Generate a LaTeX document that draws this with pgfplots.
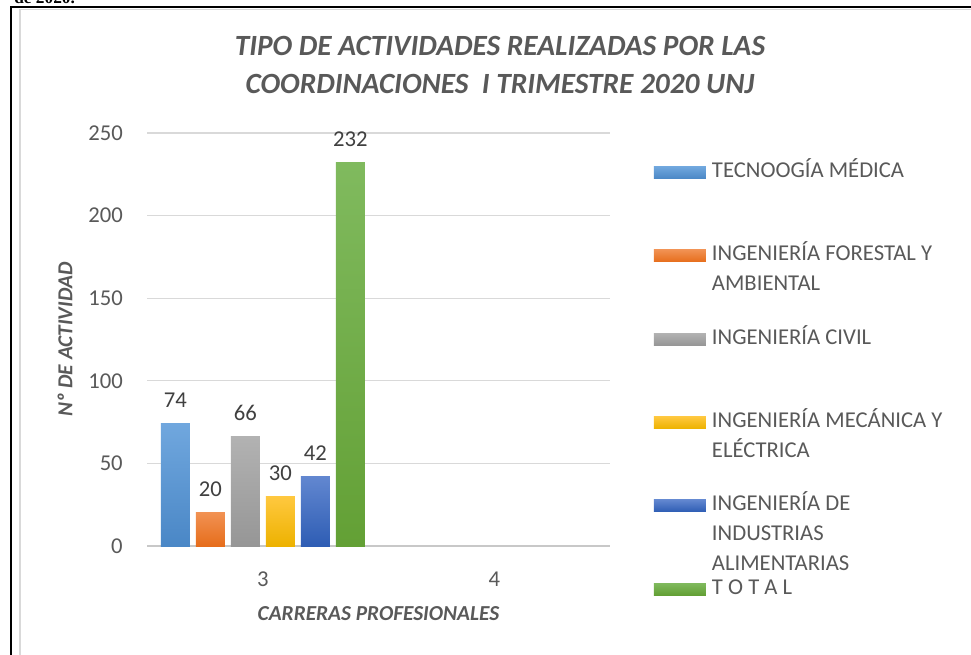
\documentclass[border=0pt]{standalone}
\usepackage{pgfplots}
\pgfplotsset{compat=1.18}
\usepackage{fontspec}
\setmainfont{Carlito}
\newfontfamily\serifb{Liberation Serif}
\definecolor{txt}{HTML}{595959}
\definecolor{lbl}{HTML}{404040}
\definecolor{gridc}{HTML}{D9D9D9}
\definecolor{axc}{HTML}{C8C8C8}
\definecolor{b1t}{HTML}{70A7DE}\definecolor{b1b}{HTML}{4A87C6}
\definecolor{b2t}{HTML}{F19152}\definecolor{b2b}{HTML}{E66D1B}
\definecolor{b3t}{HTML}{B2B2B2}\definecolor{b3b}{HTML}{969696}
\definecolor{b4t}{HTML}{FFC83F}\definecolor{b4b}{HTML}{EDB200}
\definecolor{b5t}{HTML}{6287D0}\definecolor{b5b}{HTML}{2E5DB4}
\definecolor{b6t}{HTML}{80BA5E}\definecolor{b6b}{HTML}{63A035}
\pgfplotsset{
  sw/.style={legend image code/.code={\fill[##1] (0pt,-0.75pt) rectangle (39pt,8.25pt);}}
}
\begin{document}
\begin{tikzpicture}
\begin{axis}[
  at={(110.25pt,81pt)}, anchor=south west,
  scale only axis, width=347.25pt, height=309.75pt,
  xmin=2.5, xmax=4.5, ymin=0, ymax=250,
  xtick={3,4}, ytick={0,50,100,150,200,250},
  ymajorgrids, grid style={draw=gridc, line width=0.9pt},
  axis lines*=left, axis line style={-},
  y axis line style={draw=none},
  x axis line style={draw=axc, line width=1.4pt},
  major tick length=0pt,
  ybar=4.5pt, bar width=21.75pt,
  clip=false,
  /pgf/number format/assume math mode=true,
  tick label style={font=\fontsize{17}{20}\selectfont, text=txt},
  yticklabel style={inner sep=0pt, xshift=-18pt},
  xticklabel style={inner sep=0pt, yshift=-19.5pt},
  xlabel={CARRERAS PROFESIONALES},
  xlabel style={at={(axis description cs:0.5,0)}, anchor=base, inner sep=0pt, yshift=-55.5pt,
    font=\bfseries\itshape\fontsize{16}{19}\selectfont, text=txt},
  ylabel={Nº DE ACTIVIDAD},
  ylabel style={at={(axis description cs:-0.1771,0.5)}, anchor=center, inner sep=0pt,
    font=\bfseries\itshape\fontsize{16}{19}\selectfont, text=txt},
  title={TIPO DE ACTIVIDADES REALIZADAS POR LAS\\COORDINACIONES\ \ I TRIMESTRE 2020 UNJ},
  title style={at={(axis description cs:0.7624,1)}, anchor=south, align=center, inner sep=0pt, yshift=23.5pt,
    font=\bfseries\itshape\fontsize{22}{28}\selectfont, text=txt},
  nodes near coords,
  nodes near coords style={font=\fontsize{17}{20}\selectfont, text=lbl, anchor=south, inner sep=0pt, yshift=12pt},
  legend style={at={(axis description cs:1.095,0.9305)}, anchor=north west, draw=none, fill=none,
    inner sep=0pt, outer sep=0pt, row sep=0pt, column sep=4.5pt,
    font=\fontsize{17}{22.5}\selectfont, text=txt,
    cells={anchor=base west},
    nodes={inner sep=0pt, text height=12pt, text depth=50.45pt}},
]
\addplot[sw, draw=none, top color=b1t, bottom color=b1b] coordinates {(3,74)};
\addlegendentry{TECNOOGÍA MÉDICA}
\addplot[sw, draw=none, top color=b2t, bottom color=b2b] coordinates {(3,20)};
\addlegendentry{\begin{tabular}[t]{@{}l@{}}INGENIERÍA FORESTAL Y\\AMBIENTAL\end{tabular}}
\addplot[sw, draw=none, top color=b3t, bottom color=b3b] coordinates {(3,66)};
\addlegendentry{INGENIERÍA CIVIL}
\addplot[sw, draw=none, top color=b4t, bottom color=b4b] coordinates {(3,30)};
\addlegendentry{\begin{tabular}[t]{@{}l@{}}INGENIERÍA MECÁNICA Y\\ELÉCTRICA\end{tabular}}
\addplot[sw, draw=none, top color=b5t, bottom color=b5b] coordinates {(3,42)};
\addlegendentry{\begin{tabular}[t]{@{}l@{}}INGENIERÍA DE\\INDUSTRIAS\\ALIMENTARIAS\end{tabular}}
\addplot[sw, draw=none, top color=b6t, bottom color=b6b] coordinates {(3,232)};
\addlegendentry{T O T A L}
\end{axis}
\begin{scope}[x=0.75pt,y=0.75pt]
\node[anchor=base west, font=\serifb\bfseries\fontsize{13}{15}\selectfont, inner sep=0pt] at (14,650) {de 2020.};
\draw[gridc, line width=1.2pt] (20,-5) -- (20,644.5) -- (980,644.5);
\draw[black, line width=1.5pt] (11,-5) -- (11,646.7) -- (980,646.7);
\end{scope}
\pgfresetboundingbox
\useasboundingbox (0pt,0pt) rectangle (728.25pt,490.5pt);
\end{tikzpicture}
\end{document}
